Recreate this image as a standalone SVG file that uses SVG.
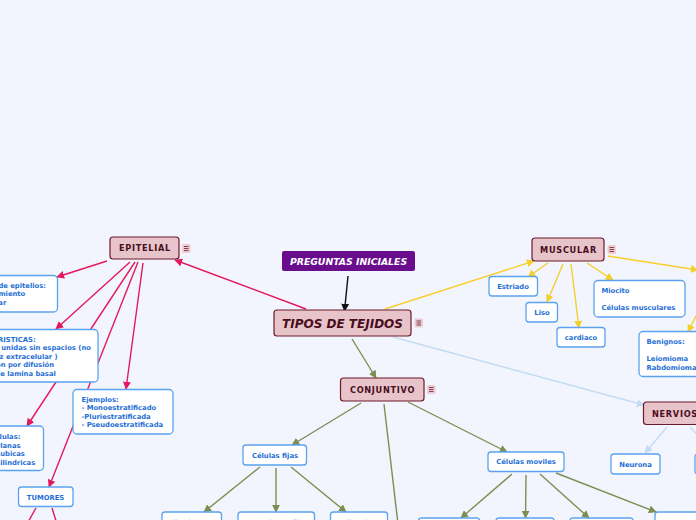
<svg xmlns="http://www.w3.org/2000/svg" width="696" height="520" viewBox="0 0 696 520">
<defs>
<style>
.bg{fill:#f2f5fd}
.main rect.n{fill:#e6c4ca;stroke:#6b1b2b;stroke-width:1.2}
.main text{font-family:"DejaVu Sans",sans-serif;font-weight:bold;font-size:8.2px;letter-spacing:0.7px;fill:#4a0d1d;text-anchor:middle}
.leaf rect{fill:#ffffff;stroke:#5aa2f0;stroke-width:1.3}
.leaf text{font-family:"DejaVu Sans",sans-serif;font-weight:bold;font-size:6.8px;fill:#1f6fd6}
.c{text-anchor:middle}
.icon rect{fill:#ecccd2}
.icon path{stroke:#6b1b2b;stroke-width:0.8}
.pk{stroke:#e3195e;stroke-width:1.4;fill:none;marker-end:url(#apk)}
.yl{stroke:#f6cf2a;stroke-width:1.4;fill:none;marker-end:url(#ayl)}
.gr{stroke:#7c8f52;stroke-width:1.4;fill:none;marker-end:url(#agr)}
.lb{stroke:#c3dcf2;stroke-width:1.4;fill:none;marker-end:url(#alb)}
.bk{stroke:#111111;stroke-width:1.4;fill:none;marker-end:url(#abk)}
</style>
<marker id="apk" viewBox="0 0 10 10" refX="9" refY="5" markerWidth="8" markerHeight="8" markerUnits="userSpaceOnUse" orient="auto"><path d="M0,0L10,5L0,10z" fill="#e3195e"/></marker>
<marker id="ayl" viewBox="0 0 10 10" refX="9" refY="5" markerWidth="8" markerHeight="8" markerUnits="userSpaceOnUse" orient="auto"><path d="M0,0L10,5L0,10z" fill="#f6cf2a"/></marker>
<marker id="agr" viewBox="0 0 10 10" refX="9" refY="5" markerWidth="8" markerHeight="8" markerUnits="userSpaceOnUse" orient="auto"><path d="M0,0L10,5L0,10z" fill="#7c8f52"/></marker>
<marker id="alb" viewBox="0 0 10 10" refX="9" refY="5" markerWidth="8" markerHeight="8" markerUnits="userSpaceOnUse" orient="auto"><path d="M0,0L10,5L0,10z" fill="#c3dcf2"/></marker>
<marker id="abk" viewBox="0 0 10 10" refX="9" refY="5" markerWidth="8" markerHeight="8" markerUnits="userSpaceOnUse" orient="auto"><path d="M0,0L10,5L0,10z" fill="#111111"/></marker>
</defs>
<rect class="bg" x="0" y="0" width="696" height="520"/>

<g id="connectors">
<path class="bk" d="M348,276L344.5,311"/>
<path class="pk" d="M306,309L175,260"/>
<path class="yl" d="M385,309L534,261"/>
<path class="gr" d="M352,339L376,378"/>
<path class="lb" d="M393,337L644,405"/>
<path class="pk" d="M107,261L57,277"/>
<path class="pk" d="M130,262L56,329"/>
<path class="pk" d="M135,262L27,426"/>
<path class="pk" d="M138,262L49,487"/>
<path class="pk" d="M143,263L126,389"/>
<path class="pk" d="M36,508L27,524" style="marker-end:none"/>
<path class="pk" d="M52,508L57,524" style="marker-end:none"/>
<path class="yl" d="M548,263L528,277"/>
<path class="yl" d="M563,264L547,302"/>
<path class="yl" d="M571,264L579,328"/>
<path class="yl" d="M587,263L613,280"/>
<path class="yl" d="M608,256L698,270"/>
<path class="yl" d="M708,292L688,332"/>
<path class="lb" d="M667,427L645,453"/>
<path class="lb" d="M690,427L702,440" style="marker-end:none"/>
<path class="gr" d="M361,403L292,445"/>
<path class="gr" d="M384,404L398,524" style="marker-end:none"/>
<path class="gr" d="M408,402L507,452"/>
<path class="gr" d="M260,467L204,512"/>
<path class="gr" d="M276,468L276,512"/>
<path class="gr" d="M291,467L346,512"/>
<path class="gr" d="M512,474L461,518"/>
<path class="gr" d="M526,475L525.5,518"/>
<path class="gr" d="M540,474L589,518"/>
<path class="gr" d="M556,473L656,512"/>
</g>

<g id="preguntas">
<rect x="282" y="251" width="133" height="20" rx="2" fill="#6a0d8c"/>
<text x="348.5" y="264.5" font-family="DejaVu Sans,sans-serif" font-weight="bold" font-style="italic" font-size="9.3" fill="#ffffff" text-anchor="middle">PREGUNTAS INICIALES</text>
</g>

<g id="tipos" class="main">
<rect class="n" x="274" y="310" width="137" height="26" rx="3"/>
<text x="342.5" y="327.5" style="font-size:12px;font-style:italic;letter-spacing:0">TIPOS DE TEJIDOS</text>
<g class="icon"><rect x="414.5" y="318.5" width="8.5" height="9" rx="1.5"/><path d="M416.5,321H421M416.5,323H421M416.5,325H421"/></g>
</g>

<g id="epitelial" class="main">
<rect class="n" x="110" y="237" width="69" height="22" rx="3"/>
<text x="145" y="251">EPITELIAL</text>
<g class="icon"><rect x="182" y="244" width="8.5" height="9" rx="1.5"/><path d="M184,246.5H188.5M184,248.5H188.5M184,250.5H188.5"/></g>
</g>

<g id="muscular" class="main">
<rect class="n" x="532" y="238" width="72" height="23" rx="3"/>
<text x="568.5" y="252.5">MUSCULAR</text>
<g class="icon"><rect x="607.5" y="245" width="8.5" height="9" rx="1.5"/><path d="M609.5,247.5H614M609.5,249.5H614M609.5,251.5H614"/></g>
</g>

<g id="conjuntivo" class="main">
<rect class="n" x="340.5" y="378" width="83.5" height="23" rx="3"/>
<text x="382.5" y="392.5">CONJUNTIVO</text>
<g class="icon"><rect x="427" y="385" width="8.5" height="9" rx="1.5"/><path d="M429,387.5H433.5M429,389.5H433.5M429,391.5H433.5"/></g>
</g>

<g id="nervioso" class="main">
<rect class="n" x="643.5" y="402" width="80" height="22.5" rx="3"/>
<text x="652" y="416.5" style="text-anchor:start">NERVIOSO</text>
</g>

<g id="tipos-epitelios" class="leaf">
<rect x="-35" y="275.5" width="92.5" height="36.5" rx="4"/>
<text x="-24.5" y="288">Tipos de epitelios:</text>
<text x="-30" y="296">Revestimiento</text>
<text x="-31" y="304.5">Glandular</text>
</g>

<g id="caracteristicas" class="leaf">
<rect x="-45" y="329.5" width="143" height="52.5" rx="4"/>
<text x="-37" y="341.5">CARACTERISTICAS:</text>
<text x="-34" y="350">- Células unidas sin espacios (no</text>
<text x="-37" y="358.5">hay matriz extracelular )</text>
<text x="-35" y="367">- Nutrición por difusión</text>
<text x="-36" y="375.5">- Apoyo de lamina basal</text>
</g>

<g id="celulas" class="leaf">
<rect x="-20" y="426" width="63.5" height="44.5" rx="4"/>
<text x="-10" y="439">Células:</text>
<text x="-10" y="447.5">- Planas</text>
<text x="-10" y="456">- Cubicas</text>
<text x="-10" y="464.5">- Cilindricas</text>
</g>

<g id="ejemplos" class="leaf">
<rect x="73" y="389.5" width="100" height="44.5" rx="4"/>
<text x="81.5" y="401.5">Ejemplos:</text>
<text x="81.5" y="410">- Monoestratificado</text>
<text x="81.5" y="418.5">-Pluriestratificada</text>
<text x="81.5" y="427">- Pseudoestratificada</text>
</g>

<g id="tumores" class="leaf">
<rect x="18.5" y="487" width="54.5" height="19.5" rx="3"/>
<text class="c" x="45.5" y="499.5">TUMORES</text>
</g>

<g id="estriado" class="leaf">
<rect x="489" y="276.5" width="48.5" height="19.5" rx="3"/>
<text class="c" x="513" y="289">Estriado</text>
</g>

<g id="liso" class="leaf">
<rect x="526" y="302.5" width="31.5" height="19.5" rx="3"/>
<text class="c" x="542" y="314.5">Liso</text>
</g>

<g id="cardiaco" class="leaf">
<rect x="557" y="327.5" width="48" height="19.5" rx="3"/>
<text class="c" x="581" y="340">cardiaco</text>
</g>

<g id="miocito" class="leaf">
<rect x="594" y="280.5" width="91" height="36.5" rx="4"/>
<text x="601.5" y="293">Miocito</text>
<text x="601.5" y="310">Células musculares</text>
</g>

<g id="benignos" class="leaf">
<rect x="639" y="331.5" width="80" height="45" rx="4"/>
<text x="646.5" y="344">Benignos:</text>
<text x="646.5" y="360.5">Leiomioma</text>
<text x="646.5" y="369.5">Rabdomioma</text>
</g>

<g id="neurona" class="leaf">
<rect x="611" y="454" width="49" height="20" rx="3"/>
<text class="c" x="635.5" y="466.5">Neurona</text>
</g>

<g id="nervioso-hijo" class="leaf">
<rect x="695" y="454" width="40" height="20" rx="3"/>
</g>

<g id="celulas-fijas" class="leaf">
<rect x="243" y="445" width="63.5" height="20" rx="3"/>
<text class="c" x="275" y="457.5">Células fijas</text>
</g>

<g id="celulas-moviles" class="leaf">
<rect x="488" y="452" width="76" height="19.5" rx="3"/>
<text class="c" x="526" y="464">Células moviles</text>
</g>

<g id="fijas-1" class="leaf">
<rect x="162" y="512" width="59.5" height="20" rx="3"/>
<text class="c" x="192" y="525">Fibroblastos</text>
</g>
<g id="fijas-2" class="leaf">
<rect x="238" y="512" width="76.5" height="20" rx="3"/>
<text class="c" x="276" y="525">Macrofagos fijos</text>
</g>
<g id="fijas-3" class="leaf">
<rect x="330.5" y="512" width="57" height="20" rx="3"/>
<text class="c" x="359" y="525">Adipocitos</text>
</g>
<g id="moviles-1" class="leaf">
<rect x="418.5" y="518" width="61" height="20" rx="3"/>
</g>
<g id="moviles-2" class="leaf">
<rect x="496" y="518" width="58" height="20" rx="3"/>
</g>
<g id="moviles-3" class="leaf">
<rect x="570" y="518" width="63" height="20" rx="3"/>
</g>
<g id="moviles-4" class="leaf">
<rect x="655" y="512" width="70" height="20" rx="3"/>
</g>
</svg>
